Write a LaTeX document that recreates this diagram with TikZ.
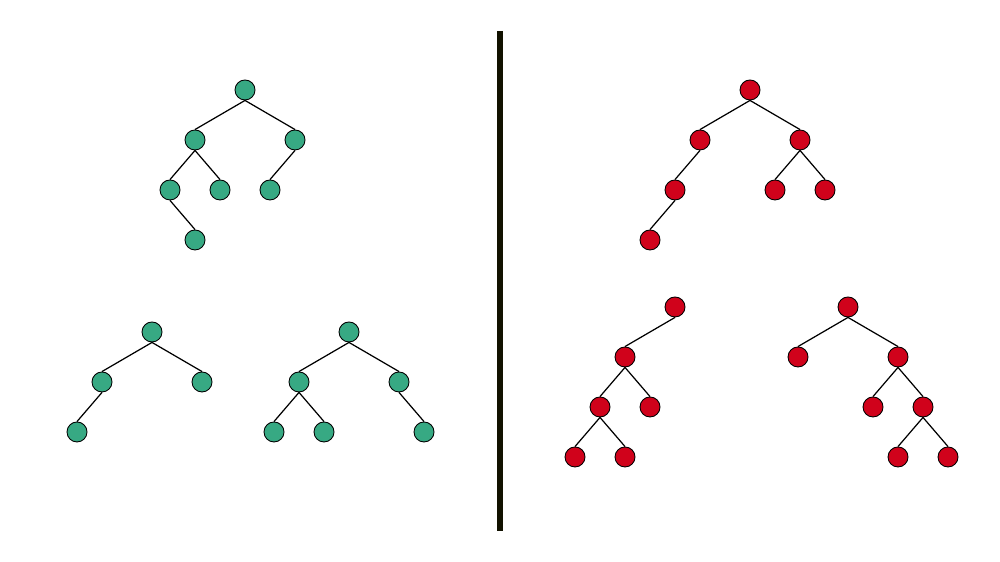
\documentclass[tikz,border=0pt]{standalone}
\usepackage{xcolor}
\usepackage{tikz}
\usetikzlibrary{positioning}
\definecolor{leafgreen}{HTML}{37A983}
\definecolor{leafred}{HTML}{D0021B}
\definecolor{splitdark}{HTML}{111100}

\begin{document}
\begin{tikzpicture}[
    x=0.01cm, y=-0.01cm,
    gnode/.style={circle, draw, fill=leafgreen, minimum size=0.2cm, inner sep=0pt, line width=0.25pt},
    rnode/.style={circle, draw, fill=leafred, minimum size=0.2cm, inner sep=0pt, line width=0.25pt},
    edge/.style={line width=0.35pt}
]
    \useasboundingbox[fill=white] (0,0) rectangle (1000,562);

    % green tree, top
    \node[gnode] (ga) at (245,90) {};
    \node[gnode] (gb) at (195,140) {};
    \node[gnode] (gc) at (295,140) {};
    \node[gnode] (gd) at (170,190) {};
    \node[gnode] (ge) at (220,190) {};
    \node[gnode] (gf) at (270,190) {};
    \node[gnode] (gg) at (195,240) {};
    \draw[edge] (ga.south) -- (gb.north);
    \draw[edge] (ga.south) -- (gc.north);
    \draw[edge] (gb.south) -- (gd.north);
    \draw[edge] (gb.south) -- (ge.north);
    \draw[edge] (gc.south) -- (gf.north);
    \draw[edge] (gd.south) -- (gg.north);

    % green tree, bottom left
    \node[gnode] (gla) at (152,332) {};
    \node[gnode] (glb) at (102,382) {};
    \node[gnode] (glc) at (202,382) {};
    \node[gnode] (gld) at (77,432) {};
    \draw[edge] (gla.south) -- (glb.north);
    \draw[edge] (gla.south) -- (glc.north);
    \draw[edge] (glb.south) -- (gld.north);

    % green tree, bottom right
    \node[gnode] (gra) at (349,332) {};
    \node[gnode] (grb) at (299,382) {};
    \node[gnode] (grc) at (399,382) {};
    \node[gnode] (grd) at (274,432) {};
    \node[gnode] (gre) at (324,432) {};
    \node[gnode] (grf) at (424,432) {};
    \draw[edge] (gra.south) -- (grb.north);
    \draw[edge] (gra.south) -- (grc.north);
    \draw[edge] (grb.south) -- (grd.north);
    \draw[edge] (grb.south) -- (gre.north);
    \draw[edge] (grc.south) -- (grf.north);

    % divider
    \draw[line width=1.7pt, color=splitdark] (500,31) coordinate (top) -- (500,531) coordinate (bot);

    % red tree, top
    \node[rnode] (ra) at (750,90) {};
    \node[rnode] (rb) at (700,140) {};
    \node[rnode] (rc) at (800,140) {};
    \node[rnode] (rd) at (675,190) {};
    \node[rnode] (re) at (775,190) {};
    \node[rnode] (rf) at (825,190) {};
    \node[rnode] (rg) at (650,240) {};
    \draw[edge] (ra.south) -- (rb.north);
    \draw[edge] (ra.south) -- (rc.north);
    \draw[edge] (rb.south) -- (rd.north);
    \draw[edge] (rc.south) -- (re.north);
    \draw[edge] (rc.south) -- (rf.north);
    \draw[edge] (rd.south) -- (rg.north);

    % red tree, bottom left
    \node[rnode] (rla) at (675,307) {};
    \node[rnode] (rlb) at (625,357) {};
    \node[rnode] (rlc) at (600,407) {};
    \node[rnode] (rld) at (650,407) {};
    \node[rnode] (rle) at (575,457) {};
    \node[rnode] (rlf) at (625,457) {};
    \draw[edge] (rla.south) -- (rlb.north);
    \draw[edge] (rlb.south) -- (rlc.north);
    \draw[edge] (rlb.south) -- (rld.north);
    \draw[edge] (rlc.south) -- (rle.north);
    \draw[edge] (rlc.south) -- (rlf.north);

    % red tree, bottom right
    \node[rnode] (rra) at (848,307) {};
    \node[rnode] (rrb) at (798,357) {};
    \node[rnode] (rrc) at (898,357) {};
    \node[rnode] (rrd) at (873,407) {};
    \node[rnode] (rre) at (923,407) {};
    \node[rnode] (rrf) at (898,457) {};
    \node[rnode] (rrg) at (948,457) {};
    \draw[edge] (rra.south) -- (rrb.north);
    \draw[edge] (rra.south) -- (rrc.north);
    \draw[edge] (rrc.south) -- (rrd.north);
    \draw[edge] (rrc.south) -- (rre.north);
    \draw[edge] (rre.south) -- (rrf.north);
    \draw[edge] (rre.south) -- (rrg.north);
\end{tikzpicture}
\end{document}
